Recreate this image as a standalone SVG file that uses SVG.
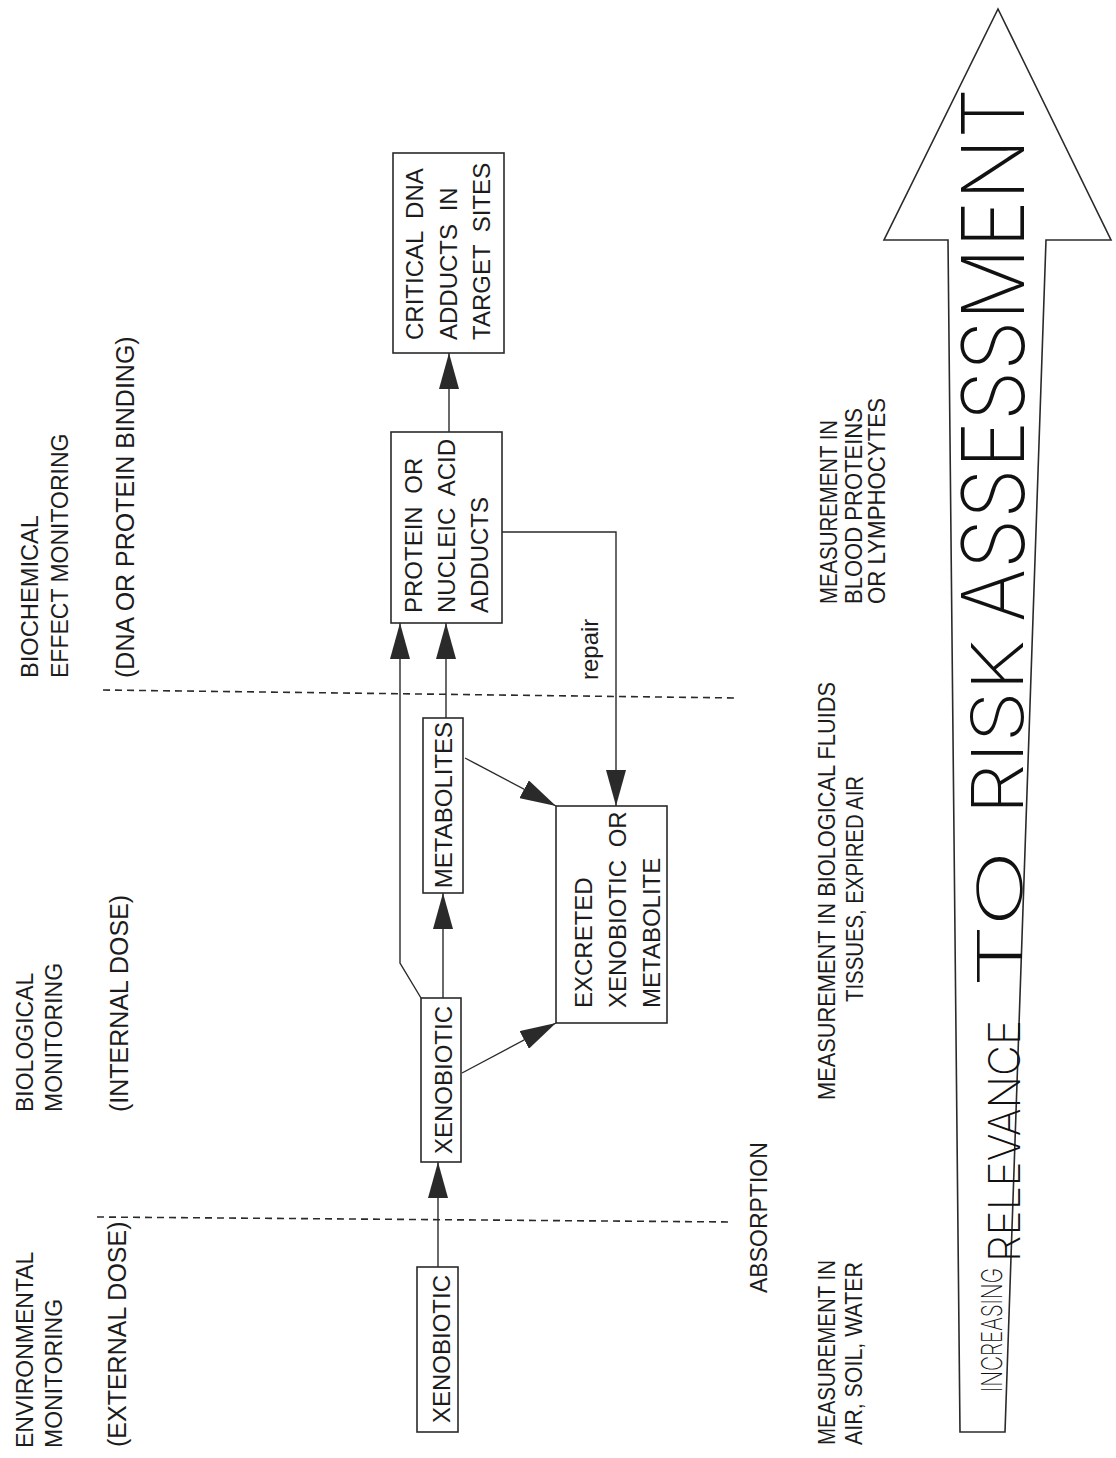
<svg xmlns="http://www.w3.org/2000/svg" width="1116" height="1458" viewBox="0 0 1116 1458">
<style>
.t{font-family:"Liberation Sans",Arial,sans-serif;font-size:24px;fill:#1c1c1c}
.lab{font-size:23px}
.par{font-size:25px}
.bx{word-spacing:6px}
.box{fill:none;stroke:#2a2a2a;stroke-width:1.6}
.ln{fill:none;stroke:#2a2a2a;stroke-width:1.4}
.dash{fill:none;stroke:#2a2a2a;stroke-width:1.6;stroke-dasharray:7 5}
.big{font-family:Inter,"Liberation Sans",sans-serif;font-weight:200;fill:#111}
</style>
<defs>
<marker id="ah" markerUnits="userSpaceOnUse" markerWidth="36" markerHeight="20" viewBox="0 0 36 20" refX="36" refY="10" orient="auto">
<path d="M0,0 L36,10 L0,20 z" fill="#2a2a2a"/>
</marker>
</defs>
<rect width="1116" height="1458" fill="#fff"/>

<g id="labels-left">
<g id="label-environmental">
<text class="t lab" transform="translate(33,1448) rotate(-90)">ENVIRONMENTAL</text>
<text class="t lab" transform="translate(62,1448) rotate(-90)">MONITORING</text>
<text class="t par" transform="translate(126,1447) rotate(-90)">(EXTERNAL DOSE)</text>
</g>
<g id="label-biological">
<text class="t lab" transform="translate(33,1112) rotate(-90)">BIOLOGICAL</text>
<text class="t lab" transform="translate(62,1112) rotate(-90)">MONITORING</text>
<text class="t par" transform="translate(128,1112) rotate(-90)">(INTERNAL DOSE)</text>
</g>
<g id="label-biochemical">
<text class="t lab" textLength="163" lengthAdjust="spacingAndGlyphs" transform="translate(38,678) rotate(-90)">BIOCHEMICAL</text>
<text class="t lab" transform="translate(68,678) rotate(-90)">EFFECT MONITORING</text>
<text class="t par" transform="translate(134,678) rotate(-90)">(DNA OR PROTEIN BINDING)</text>
</g>
</g>

<g id="dividers">
<line class="dash" x1="97" y1="1217" x2="733" y2="1222"/>
<line class="dash" x1="103" y1="690" x2="738" y2="698"/>
</g>

<g id="connectors">
<line class="ln" x1="438" y1="1267" x2="438" y2="1162" marker-end="url(#ah)"/>
<line class="ln" x1="443" y1="998" x2="443" y2="893" marker-end="url(#ah)"/>
<polyline class="ln" points="421,998 400,963 400,623" marker-end="url(#ah)"/>
<line class="ln" x1="446" y1="718" x2="446" y2="623" marker-end="url(#ah)"/>
<line class="ln" x1="449" y1="432" x2="449" y2="353" marker-end="url(#ah)"/>
<line class="ln" x1="462" y1="1073" x2="556" y2="1023" marker-end="url(#ah)"/>
<line class="ln" x1="465" y1="758" x2="556" y2="806" marker-end="url(#ah)"/>
<polyline class="ln" points="502,532 616,532 616,806" marker-end="url(#ah)"/>
<text class="t" transform="translate(598,680) rotate(-90)">repair</text>
</g>

<g id="node-xenobiotic-external">
<rect class="box" x="417" y="1267" width="41" height="165"/>
<text class="t" text-anchor="middle" transform="translate(450,1349) rotate(-90)">XENOBIOTIC</text>
</g>
<g id="node-xenobiotic-internal">
<rect class="box" x="421" y="998" width="40" height="164"/>
<text class="t" text-anchor="middle" transform="translate(452,1080) rotate(-90)">XENOBIOTIC</text>
</g>
<g id="node-metabolites">
<rect class="box" x="423" y="718" width="40" height="175"/>
<text class="t" text-anchor="middle" transform="translate(452,805) rotate(-90)">METABOLITES</text>
</g>
<g id="node-excreted">
<rect class="box" x="556" y="806" width="111" height="217"/>
<text class="t bx" transform="translate(592,1008) rotate(-90)">EXCRETED</text>
<text class="t bx" transform="translate(626,1008) rotate(-90)">XENOBIOTIC OR</text>
<text class="t bx" transform="translate(660,1008) rotate(-90)">METABOLITE</text>
</g>
<g id="node-adducts">
<rect class="box" x="391" y="432" width="111" height="191"/>
<text class="t bx" transform="translate(422,613) rotate(-90)">PROTEIN OR</text>
<text class="t bx" transform="translate(455,613) rotate(-90)">NUCLEIC ACID</text>
<text class="t bx" transform="translate(488,613) rotate(-90)">ADDUCTS</text>
</g>
<g id="node-critical">
<rect class="box" x="393" y="153" width="111" height="200"/>
<text class="t bx" transform="translate(423,340) rotate(-90)">CRITICAL DNA</text>
<text class="t bx" transform="translate(457,340) rotate(-90)">ADDUCTS IN</text>
<text class="t bx" transform="translate(490,340) rotate(-90)">TARGET SITES</text>
</g>

<g id="label-absorption">
<text class="t lab" transform="translate(767,1293) rotate(-90)">ABSORPTION</text>
</g>

<g id="labels-measurement">
<text class="t" textLength="185" lengthAdjust="spacingAndGlyphs" transform="translate(835,1445) rotate(-90)">MEASUREMENT IN</text>
<text class="t" textLength="183" lengthAdjust="spacingAndGlyphs" transform="translate(862,1445) rotate(-90)">AIR, SOIL, WATER</text>
<text class="t" textLength="418" lengthAdjust="spacingAndGlyphs" transform="translate(835,1100) rotate(-90)">MEASUREMENT IN BIOLOGICAL FLUIDS</text>
<text class="t" text-anchor="middle" textLength="226" lengthAdjust="spacingAndGlyphs" transform="translate(863,889) rotate(-90)">TISSUES, EXPIRED AIR</text>
<text class="t" textLength="184" lengthAdjust="spacingAndGlyphs" transform="translate(837,604) rotate(-90)">MEASUREMENT IN</text>
<text class="t" textLength="196" lengthAdjust="spacingAndGlyphs" transform="translate(862,604) rotate(-90)">BLOOD PROTEINS</text>
<text class="t" textLength="206" lengthAdjust="spacingAndGlyphs" transform="translate(885,604) rotate(-90)">OR LYMPHOCYTES</text>
</g>

<g id="risk-arrow">
<polygon class="box" points="960,1432 948,240 884,240 998,9 1111,240 1046,240 1005,1432"/>
<text class="big" font-size="28" textLength="124" lengthAdjust="spacingAndGlyphs" transform="translate(1002,1392) rotate(-90)">INCREASING</text>
<text class="big" font-size="44" textLength="242" lengthAdjust="spacingAndGlyphs" transform="translate(1020,1262) rotate(-90)">RELEVANCE</text>
<text class="big" font-size="62" textLength="138" lengthAdjust="spacingAndGlyphs" transform="translate(1022,988) rotate(-90)">TO</text>
<text class="big" font-size="72" textLength="175" lengthAdjust="spacingAndGlyphs" transform="translate(1023,815) rotate(-90)">RISK</text>
<text class="big" font-size="86" textLength="534" lengthAdjust="spacingAndGlyphs" transform="translate(1024,622) rotate(-90)">ASSESSMENT</text>
</g>
</svg>
